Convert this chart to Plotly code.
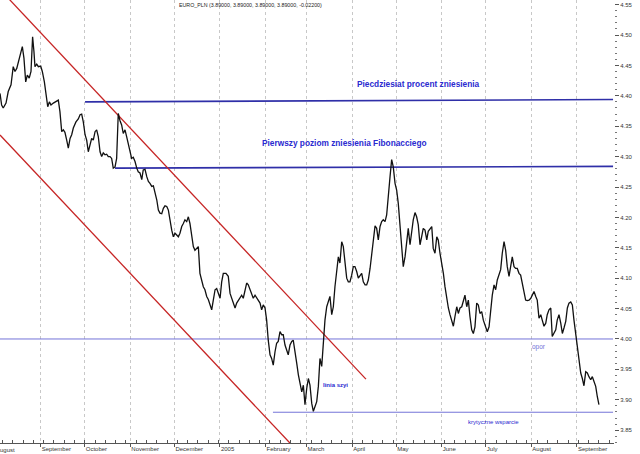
import pandas as pd
import plotly.graph_objects as go

# ---------------- data ----------------
BASE = pd.Timestamp("2004-09-01")   # day offsets below are days since this date

price_days = [
    -27.7, -26.6, -25.5, -23.6, -22.1, -20.2, -18.7, -17.5, -16.3, -15.3, -13.6, -12.5, -11.4, -10.2,
    -9.1, -7.8, -6.6, -5.5, -4.6, -3.9, -2.7, -1.6, 0.0, 1.1, 2.5, 3.6, 4.8, 5.9, 7.0, 8.6, 10.4, 12.0,
    13.1, 14.3, 15.4, 16.5, 17.7, 18.8, 20.0, 21.1, 22.2, 24.0, 25.6, 26.8, 27.9, 29.0, 30.2, 31.3,
    32.4, 33.6, 34.7, 35.8, 37.0, 38.1, 39.2, 40.4, 41.5, 42.6, 43.8, 44.9, 46.0, 47.2, 48.3, 49.4,
    50.6, 51.7, 52.8, 54.0, 55.1, 56.2, 57.4, 58.5, 59.6, 60.8, 61.9, 63.0, 64.2, 65.4, 66.4, 67.6,
    68.8, 69.8, 71.0, 72.2, 73.3, 74.4, 75.6, 76.7, 77.8, 79.0, 80.1, 81.2, 82.4, 83.5, 84.6, 85.8,
    86.9, 88.0, 89.2, 90.3, 91.4, 92.6, 93.7, 94.8, 96.0, 97.1, 98.2, 99.4, 100.5, 101.6, 102.8,
    103.9, 105.0, 106.2, 107.3, 108.4, 109.6, 110.7, 111.8, 113.0, 114.1, 115.3, 116.4, 117.5, 118.7,
    119.8, 120.9, 122.1, 123.2, 124.3, 126.1, 127.7, 128.9, 130.0, 131.1, 132.3, 133.4, 134.5, 135.7,
    136.8, 137.9, 139.1, 140.2, 141.3, 142.5, 143.6, 144.7, 145.9, 147.0, 148.1, 149.3, 150.4, 151.5,
    152.7, 153.8, 154.9, 156.1, 157.2, 158.3, 159.5, 160.6, 161.7, 162.9, 164.1, 165.1, 166.3, 167.5,
    168.5, 169.7, 170.9, 171.9, 173.1, 174.3, 175.4, 176.5, 177.7, 178.8, 179.9, 181.1, 182.2, 183.3,
    184.5, 185.6, 186.7, 187.9, 189.0, 190.1, 191.3, 192.4, 193.5, 194.7, 195.8, 196.9, 198.1, 199.2,
    200.3, 201.5, 202.6, 203.7, 204.9, 206.0, 207.1, 208.3, 209.4, 210.5, 211.7, 212.8, 213.9, 215.1,
    216.2, 217.4, 218.5, 219.6, 220.8, 221.9, 223.0, 224.2, 225.3, 226.4, 227.6, 228.7, 229.8, 231.0,
    232.1, 233.2, 234.4, 235.5, 236.6, 237.8, 238.9, 240.0, 241.2, 242.3, 243.4, 244.6, 245.7, 246.8,
    248.0, 249.1, 250.2, 251.4, 252.5, 253.6, 254.8, 255.9, 257.0, 258.2, 259.3, 260.4, 261.6, 262.8,
    263.8, 265.0, 266.2, 267.2, 268.4, 269.6, 270.6, 271.8, 273.0, 274.1, 275.2, 276.4, 277.5, 278.6,
    279.8, 280.9, 282.0, 283.2, 284.3, 285.4, 286.6, 287.7, 288.8, 290.0, 291.1, 292.2, 293.4, 294.5,
    295.6, 296.8, 297.9, 299.0, 300.2, 301.3, 302.9, 304.0, 305.2, 306.3, 307.4, 308.6, 309.7, 310.8,
    312.0, 313.1, 314.2, 315.4, 316.5, 317.6, 318.8, 319.9, 321.0, 322.2, 323.3, 324.4, 325.6, 326.7,
    327.8, 329.0, 330.1, 331.2, 332.4, 333.6, 334.6, 335.8, 337.0, 338.0, 339.2, 340.4, 341.4, 342.6,
    343.8, 344.8, 346.0, 347.2, 348.2, 349.4, 350.6, 351.6, 352.8, 354.0, 355.1, 356.2, 357.4, 358.5,
    359.6, 360.8, 361.9, 363.0, 364.2, 365.3, 366.4, 367.6, 368.7, 369.8, 371.0, 372.1, 373.2, 374.4,
    375.5, 376.6, 377.8, 378.9, 380.0,
]

price_values = [
    4.404, 4.385, 4.380, 4.388, 4.407, 4.418, 4.448, 4.440, 4.445, 4.456, 4.470, 4.481, 4.462, 4.423,
    4.434, 4.429, 4.440, 4.497, 4.473, 4.448, 4.452, 4.448, 4.449, 4.440, 4.423, 4.407, 4.382, 4.390,
    4.385, 4.388, 4.390, 4.393, 4.374, 4.341, 4.344, 4.340, 4.327, 4.314, 4.330, 4.336, 4.347, 4.357,
    4.362, 4.369, 4.370, 4.357, 4.336, 4.327, 4.308, 4.322, 4.330, 4.327, 4.341, 4.344, 4.333, 4.308,
    4.300, 4.306, 4.303, 4.304, 4.300, 4.300, 4.297, 4.281, 4.283, 4.297, 4.371, 4.359, 4.352, 4.338,
    4.344, 4.333, 4.322, 4.311, 4.297, 4.299, 4.292, 4.281, 4.275, 4.273, 4.262, 4.278, 4.279, 4.267,
    4.259, 4.256, 4.251, 4.252, 4.242, 4.229, 4.212, 4.207, 4.206, 4.215, 4.219, 4.218, 4.212, 4.193,
    4.179, 4.168, 4.174, 4.171, 4.168, 4.174, 4.185, 4.190, 4.196, 4.193, 4.201, 4.190, 4.168, 4.152,
    4.146, 4.149, 4.152, 4.108, 4.097, 4.086, 4.081, 4.070, 4.065, 4.056, 4.048, 4.064, 4.081, 4.083,
    4.075, 4.067, 4.094, 4.108, 4.108, 4.103, 4.075, 4.067, 4.056, 4.051, 4.059, 4.064, 4.067, 4.072,
    4.067, 4.081, 4.092, 4.089, 4.081, 4.072, 4.067, 4.072, 4.067, 4.064, 4.059, 4.048, 4.056, 4.051,
    4.031, 3.998, 3.974, 3.968, 3.957, 3.979, 3.993, 3.996, 4.012, 4.007, 4.007, 3.990, 3.982, 3.974,
    3.990, 3.996, 3.998, 3.982, 3.960, 3.941, 3.927, 3.913, 3.924, 3.892, 3.919, 3.935, 3.924, 3.894,
    3.881, 3.889, 3.897, 3.922, 3.968, 3.955, 4.004, 4.031, 4.053, 4.061, 4.070, 4.040, 4.053, 4.086,
    4.114, 4.135, 4.125, 4.160, 4.152, 4.130, 4.100, 4.094, 4.094, 4.105, 4.119, 4.119, 4.111, 4.100,
    4.105, 4.108, 4.094, 4.089, 4.089, 4.097, 4.116, 4.138, 4.160, 4.186, 4.182, 4.163, 4.185, 4.193,
    4.196, 4.193, 4.204, 4.229, 4.267, 4.295, 4.283, 4.256, 4.245, 4.223, 4.185, 4.152, 4.119, 4.135,
    4.157, 4.182, 4.155, 4.179, 4.196, 4.208, 4.201, 4.188, 4.155, 4.168, 4.182, 4.179, 4.163, 4.177,
    4.182, 4.185, 4.149, 4.141, 4.168, 4.163, 4.141, 4.125, 4.108, 4.086, 4.064, 4.051, 4.040, 4.031,
    4.021, 4.037, 4.053, 4.042, 4.051, 4.053, 4.064, 4.072, 4.053, 4.064, 4.037, 4.015, 4.009, 4.020,
    4.059, 4.056, 4.042, 4.045, 4.031, 4.018, 4.012, 4.020, 4.053, 4.072, 4.089, 4.081, 4.097, 4.108,
    4.114, 4.141, 4.160, 4.146, 4.119, 4.103, 4.119, 4.135, 4.119, 4.116, 4.116, 4.108, 4.105, 4.092,
    4.075, 4.064, 4.063, 4.064, 4.067, 4.072, 4.078, 4.070, 4.064, 4.034, 4.040, 4.031, 4.021, 4.026,
    4.040, 4.048, 4.051, 4.004, 4.009, 4.015, 4.031, 4.040, 4.026, 4.009, 4.018, 4.029, 4.051, 4.059,
    4.061, 4.056, 4.031, 4.007, 3.987, 3.960, 3.944, 3.935, 3.923, 3.946, 3.944, 3.938, 3.933, 3.938,
    3.930, 3.922, 3.905, 3.892,
]

# trend channel (red)
upper_channel_days = [-27.7, 221.4]
upper_channel_values = [4.575, 3.934]
lower_channel_days = [-27.7, 169.8]
lower_channel_values = [4.3356, 3.8285]

# retracement levels (dark blue)
fifty_pct_days = [30.2, 389.6]
fifty_pct_values = [4.390, 4.394]
fib_days = [50.6, 389.6]
fib_values = [4.281, 4.284]

# resistance / support (light blue)
resistance_days = [-27.7, 389.6]
resistance_values = [4.000, 4.000]
support_days = [158.1, 389.6]
support_values = [3.8795, 3.8795]

month_tick_dates = ["2004-09-01", "2004-10-01", "2004-11-01", "2004-12-01", "2005-01-01",
                    "2005-02-01", "2005-03-01", "2005-04-01", "2005-05-01", "2005-06-01",
                    "2005-07-01", "2005-08-01", "2005-09-01"]
month_tick_labels = ["September", "October", "November", "December", "2005", "February", "March",
                     "April", "May", "June", "July", "August", "September"]

title_text = "EURO_PLN (3.89000, 3.89000, 3.89000, 3.89000, -0.02200)"


def to_dates(days):
    return [BASE + pd.Timedelta(days=d) for d in days]


SMALL_FONT = "Liberation Sans, Arial, sans-serif"
BOLD_FONT = "Liberation Sans, Arial, sans-serif"
RED = "#c62424"
DARK_BLUE = "#2f2fa8"
LIGHT_BLUE = "#7474d8"
TEXT_BLUE = "#2a2ad0"
AXIS_TEXT = "#333333"

fig = go.Figure()

fig.add_trace(go.Scatter(x=to_dates(resistance_days), y=resistance_values, mode="lines",
                         line=dict(color=LIGHT_BLUE, width=1)))
fig.add_trace(go.Scatter(x=to_dates(support_days), y=support_values, mode="lines",
                         line=dict(color=LIGHT_BLUE, width=1)))
fig.add_trace(go.Scatter(x=to_dates(fifty_pct_days), y=fifty_pct_values, mode="lines",
                         line=dict(color=DARK_BLUE, width=1.6)))
fig.add_trace(go.Scatter(x=to_dates(fib_days), y=fib_values, mode="lines",
                         line=dict(color=DARK_BLUE, width=1.6)))
fig.add_trace(go.Scatter(x=to_dates(upper_channel_days), y=upper_channel_values, mode="lines",
                         line=dict(color=RED, width=1.3)))
fig.add_trace(go.Scatter(x=to_dates(lower_channel_days), y=lower_channel_values, mode="lines",
                         line=dict(color=RED, width=1.3)))
fig.add_trace(go.Scatter(x=to_dates(price_days), y=price_values, mode="lines",
                         line=dict(color="#111111", width=1.3)))

x_range = to_dates([-27.7, 390.25])

fig.update_layout(
    width=640, height=454,
    margin=dict(l=0, r=26, t=0, b=11),
    paper_bgcolor="white", plot_bgcolor="white",
    showlegend=False, hovermode=False,
    font=dict(family=SMALL_FONT, size=6, color=AXIS_TEXT),
    xaxis=dict(
        type="date", range=x_range,
        tickmode="array", tickvals=month_tick_dates, ticktext=month_tick_labels,
        ticks="outside", ticklen=3, tickcolor="#555555",
        ticklabelposition="outside right",
        tickfont=dict(family=SMALL_FONT, size=6, color=AXIS_TEXT),
        showgrid=True, gridcolor="#c8c8c8", griddash="dot", gridwidth=1,
        showline=True, linecolor="#555555", linewidth=1,
        zeroline=False,
        minor=dict(dtick=7 * 86400000, tick0="2004-09-03", ticks="inside", ticklen=3,
                   tickcolor="#555555", showgrid=False),
    ),
    yaxis=dict(
        side="right", range=[3.8289, 4.5576],
        tick0=3.85, dtick=0.05, tickformat=".2f",
        ticks="outside", ticklen=4, tickcolor="#555555",
        tickfont=dict(family=SMALL_FONT, size=6, color=AXIS_TEXT),
        showgrid=False, showline=False, zeroline=False,
        minor=dict(dtick=0.01, ticks="outside", ticklen=2, tickcolor="#777777", showgrid=False),
    ),
)

annotations = [
    dict(text=title_text, x=0.4072, y=0.9887, font=dict(family=SMALL_FONT, size=5.3, color="#222222")),
    dict(text="<b>Piecdziesiat procent zniesienia</b>", x=0.6808, y=0.8104,
         font=dict(family=BOLD_FONT, size=8.3, color=TEXT_BLUE)),
    dict(text="<b>Pierwszy poziom zniesienia Fibonacciego</b>", x=0.5603, y=0.6772,
         font=dict(family=BOLD_FONT, size=8.3, color=TEXT_BLUE)),
    dict(text="<b>linia szyi</b>", x=0.5472, y=0.1309,
         font=dict(family=SMALL_FONT, size=6, color=TEXT_BLUE)),
    dict(text="krytyczne wsparcie", x=0.8037, y=0.0474,
         font=dict(family=SMALL_FONT, size=6, color=TEXT_BLUE)),
    dict(text="opor", x=0.8779, y=0.2167,
         font=dict(family=SMALL_FONT, size=6.5, color=LIGHT_BLUE)),
]
for a in annotations:
    fig.add_annotation(xref="paper", yref="paper", showarrow=False,
                       xanchor="center", yanchor="middle", **a)

# month label cut off at the left edge ("August" 2004)
fig.add_annotation(text="August", xref="paper", yref="paper", x=-0.009, y=0, yshift=-7,
                   xanchor="left", yanchor="middle", showarrow=False,
                   font=dict(family=SMALL_FONT, size=6, color=AXIS_TEXT))

fig.write_html("out.html", config={"displayModeBar": False},
               post_script="document.body.style.margin='0';")
